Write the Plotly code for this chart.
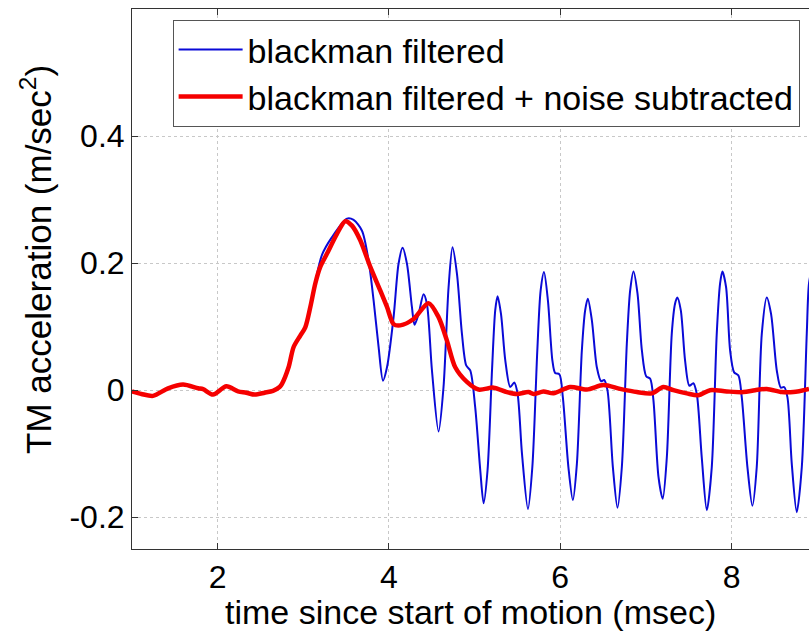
import plotly.graph_objects as go

# time since start of motion (msec) and acceleration (m/sec^2)
red_t = [1.0, 1.110, 1.246, 1.421, 1.596, 1.771, 1.830, 1.946, 2.102, 2.238, 2.335, 2.432,
         2.548, 2.646, 2.723, 2.751, 2.828, 2.887, 2.965, 3.023, 3.082, 3.140, 3.198, 3.277,
         3.393, 3.490, 3.568, 3.665, 3.782, 3.898, 3.977, 4.054, 4.132, 4.287, 4.462, 4.579,
         4.677, 4.774, 4.910, 5.046, 5.221, 5.377, 5.494, 5.629, 5.687, 5.804, 5.921, 6.116,
         6.310, 6.504, 6.699, 6.894, 7.069, 7.204, 7.321, 7.477, 7.613, 7.749, 7.944, 8.138,
         8.274, 8.411, 8.586, 8.721, 8.904]
red_a = [-0.002, -0.006, -0.009, 0.003, 0.009, 0.003, 0.0015, -0.007, 0.006, -0.002, -0.004, -0.007,
         -0.004, -0.001, 0.005, 0.010, 0.036, 0.068, 0.086, 0.099, 0.131, 0.168, 0.194, 0.215,
         0.246, 0.266, 0.259, 0.236, 0.194, 0.157, 0.131, 0.104, 0.102, 0.112, 0.137, 0.115,
         0.078, 0.036, 0.013, 0.001, 0.004, -0.003, -0.006, -0.003, -0.006, -0.002, -0.005, 0.005,
         0.001, 0.008, 0.002, -0.003, -0.005, 0.005, 0.000, -0.005, -0.008, 0.000, -0.002, -0.003,
         0.000, 0.002, -0.003, -0.003, 0.002]

blue_t = [1.0, 1.110, 1.246, 1.421, 1.596, 1.771, 1.830, 1.946, 2.102, 2.238, 2.335, 2.432,
          2.548, 2.646, 2.723, 2.751, 2.828, 2.887, 2.965, 3.023, 3.082, 3.140, 3.218, 3.335,
          3.510, 3.587, 3.685, 3.762, 3.821, 3.879, 3.930, 3.977, 4.054, 4.112, 4.159, 4.210,
          4.268, 4.299, 4.346, 4.404, 4.443, 4.502, 4.579, 4.637, 4.696, 4.742, 4.794, 4.852,
          4.902, 4.949, 5.007, 5.066, 5.105, 5.151, 5.203, 5.241, 5.268, 5.308, 5.358, 5.416,
          5.463, 5.502, 5.553, 5.623, 5.674, 5.732, 5.771, 5.810, 5.856, 5.908, 5.940, 5.990,
          6.030, 6.095, 6.147, 6.194, 6.252, 6.291, 6.322, 6.369, 6.427, 6.477, 6.512, 6.551,
          6.614, 6.668, 6.719, 6.777, 6.816, 6.855, 6.902, 6.953, 7.003, 7.050, 7.088, 7.147,
          7.196, 7.244, 7.302, 7.340, 7.367, 7.407, 7.457, 7.507, 7.554, 7.594, 7.652, 7.711,
          7.769, 7.827, 7.866, 7.893, 7.936, 7.983, 8.030, 8.080, 8.119, 8.185, 8.243, 8.294,
          8.353, 8.411, 8.461, 8.528, 8.575, 8.613, 8.652, 8.703, 8.761, 8.820, 8.878, 8.904,
          8.950]
blue_a = [-0.002, -0.006, -0.009, 0.003, 0.009, 0.003, 0.0015, -0.007, 0.006, -0.002, -0.004, -0.007,
          -0.004, -0.001, 0.005, 0.010, 0.036, 0.068, 0.086, 0.099, 0.131, 0.170, 0.213, 0.241,
          0.270, 0.268, 0.251, 0.204, 0.141, 0.068, 0.015, 0.036, 0.115, 0.199, 0.224, 0.199,
          0.131, 0.103, 0.120, 0.151, 0.136, 0.031, -0.065, 0.005, 0.162, 0.225, 0.183, 0.089,
          0.039, 0.031, -0.027, -0.126, -0.178, -0.126, 0.031, 0.126, 0.148, 0.120, 0.047, 0.005,
          0.012, -0.006, -0.100, -0.187, -0.121, 0.0625, 0.157, 0.186, 0.141, 0.047, 0.027, 0.025,
          -0.011, -0.121, -0.173, -0.116, 0.0625, 0.126, 0.144, 0.110, 0.036, 0.014, 0.016, 0.000,
          -0.121, -0.185, -0.121, 0.073, 0.157, 0.187, 0.152, 0.0625, 0.022, 0.018, -0.016, -0.137,
          -0.171, -0.106, 0.089, 0.136, 0.146, 0.126, 0.047, 0.007, 0.011, -0.006, -0.106, -0.189,
          -0.121, 0.089, 0.168, 0.187, 0.162, 0.0625, 0.028, 0.023, -0.011, -0.121, -0.182, -0.121,
          0.089, 0.146, 0.120, 0.031, 0.004, 0.005, -0.011, -0.116, -0.192, -0.121, 0.089, 0.168,
          0.200]

x_ticks = [2, 4, 6, 8]
y_ticks = [-0.2, 0, 0.2, 0.4]
y_tick_text = ["-0.2", "0", "0.2", "0.4"]

FONT = "Liberation Sans, Arial, sans-serif"

fig = go.Figure()
fig.add_trace(go.Scatter(x=blue_t, y=blue_a, mode="lines", name="blackman filtered",
                         line=dict(color="rgb(10,10,215)", width=2, shape="spline", smoothing=0.8)))
fig.add_trace(go.Scatter(x=red_t, y=red_a, mode="lines", name="blackman filtered + noise subtracted",
                         line=dict(color="rgb(245,0,0)", width=4.5, shape="spline", smoothing=0.8)))

fig.update_layout(
    width=809, height=633,
    margin=dict(l=132, r=0, t=9, b=84, autoexpand=False),
    paper_bgcolor="white", plot_bgcolor="white",
    font=dict(family=FONT, size=32, color="black"),
    showlegend=True,
    legend=dict(x=0.060, y=0.980, xanchor="left", yanchor="top",
                bgcolor="white", bordercolor="#555555", borderwidth=1,
                font=dict(size=34), itemwidth=64, tracegroupgap=0),
    xaxis=dict(range=[1, 8.904], tickvals=x_ticks, ticks="inside", ticklen=6,
               tickcolor="#333333", showline=True, linecolor="#333333", linewidth=1,
               mirror="ticks", showgrid=True, gridcolor="#c8c8c8", griddash="dot",
               gridwidth=1, zeroline=False, tickfont=dict(size=32), automargin=False),
    yaxis=dict(range=[-0.25, 0.6], tickvals=y_ticks, ticktext=y_tick_text, ticks="inside",
               ticklen=6, tickcolor="#333333", showline=True, linecolor="#333333",
               linewidth=1, mirror=False, showgrid=True, gridcolor="#c8c8c8",
               griddash="dot", gridwidth=1, zeroline=False, tickfont=dict(size=32),
               automargin=False),
    annotations=[
        dict(text="time since start of motion (msec)", xref="paper", yref="paper",
             x=0.5, y=-0.116, xanchor="center", yanchor="middle", showarrow=False,
             font=dict(size=34)),
        dict(text="TM acceleration (m/sec<sup>2</sup>)", xref="paper", yref="paper",
             x=-0.142, y=0.537, xanchor="center", yanchor="middle", textangle=-90,
             showarrow=False, font=dict(size=35)),
    ],
)

fig.write_html("out.html",
               config={"displayModeBar": False},
               post_script="document.body.style.margin='0';"
                           "document.documentElement.style.overflow='hidden';")
